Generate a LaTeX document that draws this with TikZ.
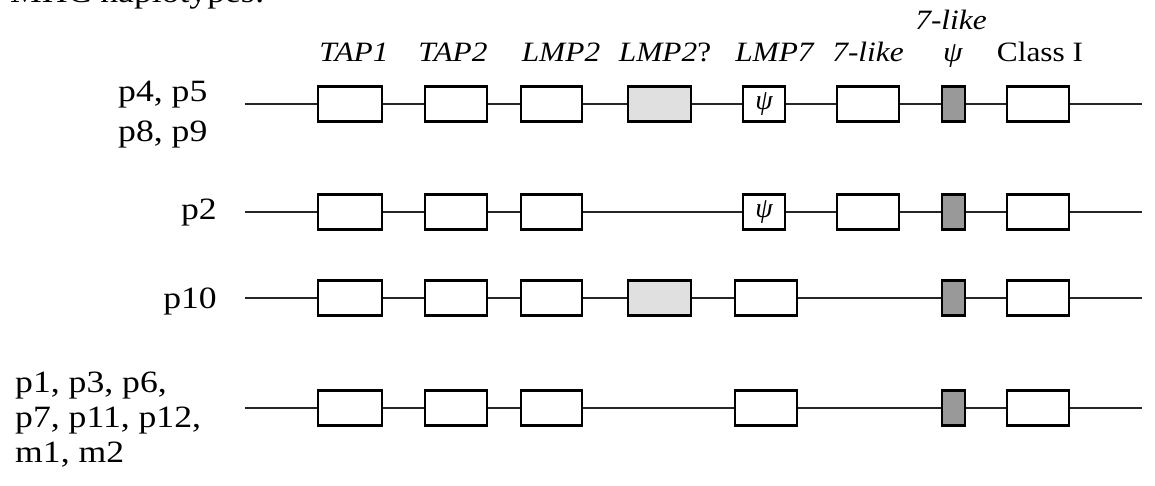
\documentclass[tikz,border=0pt]{standalone}
\usepackage{fontspec}
\setmainfont{Liberation Serif}
\begin{document}
\begin{tikzpicture}[x=1pt,y=-1pt,
  gene/.style={rectangle, draw=black, line width=2.2pt, fill=white, minimum height=35pt, inner sep=0pt},
  lightgene/.style={gene, fill=black!12},
  darkgene/.style={gene, fill=black!40},
  link/.style={draw=black!85, line width=1.8pt},
  rowlab/.style={font=\fontsize{31}{36}\selectfont, xscale=1.15, inner sep=0pt},
  genelab/.style={font=\fontsize{28}{32}\selectfont, xscale=1.12, inner sep=0pt, anchor=base},
  psilab/.style={font=\fontsize{28}{30}\selectfont\itshape},
]
\useasboundingbox (0,0) rectangle (1155,486);
\clip (0,0) rectangle (1155,486);

% title (cut off at top, as in the reference)
\node[rowlab, anchor=base west] (title) at (10,3) {MHC haplotypes:};

% gene labels
\node[genelab] (lTAP1) at (354,62) {\textit{TAP1}};
\node[genelab] (lTAP2) at (453,62) {\textit{TAP2}};
\node[genelab] (lLMP2) at (561,62) {\textit{LMP2}};
\node[genelab] (lLMP2q) at (665,62) {\textit{LMP2}?};
\node[genelab] (lLMP7) at (775,62) {\textit{LMP7}};
\node[genelab] (l7like) at (868,62) {\textit{7-like}};
\node[genelab] (l7likeb) at (951,30) {\textit{7-like}};
\node[genelab] (lpsi) at (953,62) {\textit{ψ}};
\node[genelab] (lClass) at (1040,62) {Class I};

% row labels
\node[rowlab, anchor=base west] (n1a) at (118,102) {p4, p5};
\node[rowlab, anchor=base west] (n1b) at (118,142) {p8, p9};
\node[rowlab, anchor=base east] (n2) at (217,220) {p2};
\node[rowlab, anchor=base east] (n3) at (217,308) {p10};
\node[rowlab, anchor=base west] (n4a) at (15,392) {p1, p3, p6,};
\node[rowlab, anchor=base west] (n4b) at (15,427) {p7, p11, p12,};
\node[rowlab, anchor=base west] (n4c) at (15,462) {m1, m2};

% row 1
\coordinate (r1s) at (245,104);
\coordinate (r1e) at (1142,104);
\node[gene, minimum width=64pt] (r1a) at (350,104) {};
\node[gene, minimum width=62pt] (r1b) at (456,104) {};
\node[gene, minimum width=61pt] (r1c) at (551.5,104) {};
\node[lightgene, minimum width=63pt] (r1d) at (659.5,104) {};
\node[gene, minimum width=42pt, psilab] (r1e7) at (764,104) {ψ};
\node[gene, minimum width=62pt] (r1f) at (868,104) {};
\node[darkgene, minimum width=23pt] (r1g) at (953.5,104) {};
\node[gene, minimum width=62pt] (r1h) at (1038,104) {};
\draw[link] (r1s) -- (r1a) -- (r1b) -- (r1c) -- (r1d) -- (r1e7) -- (r1f) -- (r1g) -- (r1h) -- (r1e);

% row 2
\coordinate (r2s) at (245,212);
\coordinate (r2e) at (1142,212);
\node[gene, minimum width=64pt] (r2a) at (350,212) {};
\node[gene, minimum width=62pt] (r2b) at (456,212) {};
\node[gene, minimum width=61pt] (r2c) at (551.5,212) {};
\node[gene, minimum width=42pt, psilab] (r2e7) at (764,212) {ψ};
\node[gene, minimum width=62pt] (r2f) at (868,212) {};
\node[darkgene, minimum width=23pt] (r2g) at (953.5,212) {};
\node[gene, minimum width=62pt] (r2h) at (1038,212) {};
\draw[link] (r2s) -- (r2a) -- (r2b) -- (r2c) -- (r2e7) -- (r2f) -- (r2g) -- (r2h) -- (r2e);

% row 3
\coordinate (r3s) at (245,298);
\coordinate (r3e) at (1142,298);
\node[gene, minimum width=64pt] (r3a) at (350,298) {};
\node[gene, minimum width=62pt] (r3b) at (456,298) {};
\node[gene, minimum width=61pt] (r3c) at (551.5,298) {};
\node[lightgene, minimum width=63pt] (r3d) at (659.5,298) {};
\node[gene, minimum width=62pt] (r3e7) at (766,298) {};
\node[darkgene, minimum width=23pt] (r3g) at (953.5,298) {};
\node[gene, minimum width=62pt] (r3h) at (1038,298) {};
\draw[link] (r3s) -- (r3a) -- (r3b) -- (r3c) -- (r3d) -- (r3e7) -- (r3g) -- (r3h) -- (r3e);

% row 4
\coordinate (r4s) at (245,408);
\coordinate (r4e) at (1142,408);
\node[gene, minimum width=64pt] (r4a) at (350,408) {};
\node[gene, minimum width=62pt] (r4b) at (456,408) {};
\node[gene, minimum width=61pt] (r4c) at (551.5,408) {};
\node[gene, minimum width=62pt] (r4e7) at (766,408) {};
\node[darkgene, minimum width=23pt] (r4g) at (953.5,408) {};
\node[gene, minimum width=62pt] (r4h) at (1038,408) {};
\draw[link] (r4s) -- (r4a) -- (r4b) -- (r4c) -- (r4e7) -- (r4g) -- (r4h) -- (r4e);
\end{tikzpicture}
\end{document}
